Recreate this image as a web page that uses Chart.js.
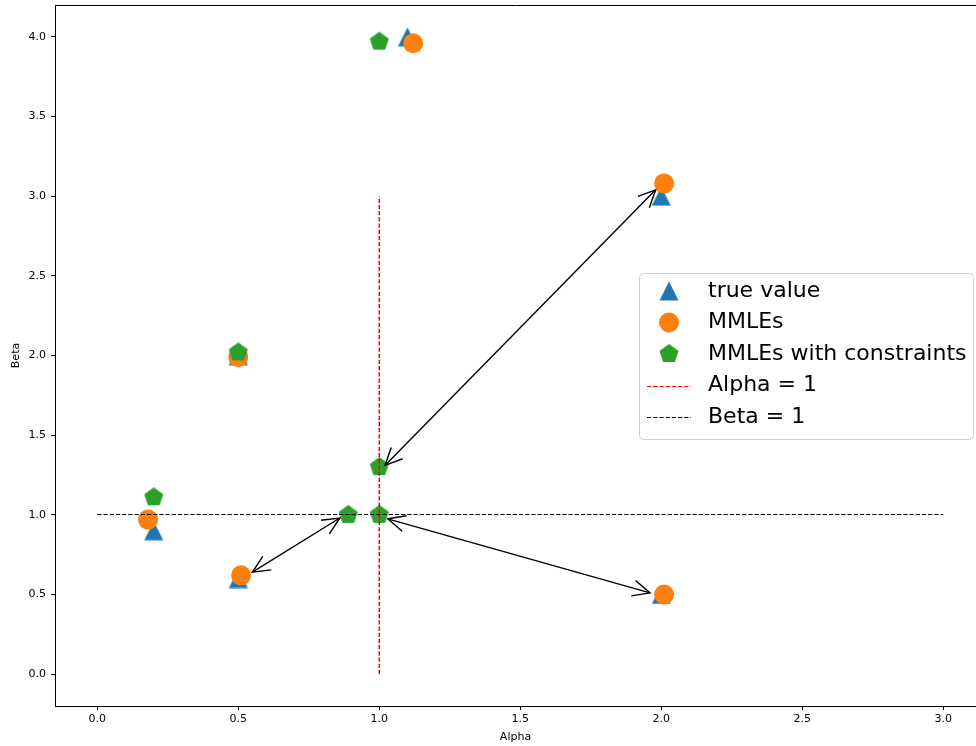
<!DOCTYPE html>
<html>
<head>
<meta charset="utf-8">
<script src="https://cdn.jsdelivr.net/npm/chart.js@4.4.1/dist/chart.umd.min.js"></script>
<style>
  html, body { margin: 0; padding: 0; background: #fff; }
  #wrap { width: 976px; height: 746px; }
</style>
</head>
<body>
<div id="wrap"><canvas id="chart" width="976" height="746"></canvas></div>
<script>
// true parameters and the two kinds of estimates
const trueAlpha = [1.1, 2.0, 0.5, 0.2, 0.5, 2.0];
const trueBeta = [4.0, 3.0, 2.0, 0.9, 0.6, 0.5];
const mmleAlpha = [1.12, 2.01, 0.5, 0.18, 0.51, 2.01];
const mmleBeta = [3.96, 3.08, 1.99, 0.97, 0.62, 0.5];
const constrainedAlpha = [1.0, 1.0, 0.5, 0.2, 0.89, 1.0];
const constrainedBeta = [3.97, 1.3, 2.02, 1.11, 1.0, 1.0];

// reference lines
const alphaLineX = [1, 1];
const alphaLineY = [0, 3];
const betaLineX = [0, 3];
const betaLineY = [1, 1];

// double headed arrows: [alpha1, beta1, alpha2, beta2]
const arrows = [
    [1.98, 3.04, 1.02, 1.31],
    [0.55, 0.64, 0.86, 0.98],
    [1.03, 0.975, 1.96, 0.51],
];

const xTicks = [0, 0.5, 1.0, 1.5, 2.0, 2.5, 3.0];
const yTicks = [0, 0.5, 1.0, 1.5, 2.0, 2.5, 3.0, 3.5, 4.0];
const legendLabels = ['true value', 'MMLEs', 'MMLEs with constraints', 'Alpha = 1', 'Beta = 1'];

const BLUE = '#1f77b4';
const ORANGE = '#ff7f0e';
const GREEN = '#2ca02c';
const DASH = [4.3, 1.9];

Chart.defaults.font.family = "'DejaVu Sans', sans-serif";
Chart.defaults.font.size = 11;
Chart.defaults.color = '#000';

const toPoints = (xs, ys) => xs.map((x, i) => ({x: x, y: ys[i]}));
const snap = p => Math.round(p - 0.5) + 0.5;

/** matplotlib '^' marker: as tall as it is wide, centred on its box
 * @return {HTMLCanvasElement} */
function makeTriangle(color, size) {
    let c = document.createElement('canvas');
    c.width = size + 1;
    c.height = size + 1;
    let ctx = c.getContext('2d');
    let h = c.width / 2;
    ctx.fillStyle = color;
    ctx.beginPath();
    ctx.moveTo(h, h - size / 2);
    ctx.lineTo(h - size / 2, h + size / 2);
    ctx.lineTo(h + size / 2, h + size / 2);
    ctx.closePath();
    ctx.fill();
    return c;
}

/** @return {HTMLCanvasElement} */
function makePentagon(color, radius) {
    let c = document.createElement('canvas');
    c.width = Math.ceil(radius * 2 + 2);
    c.height = c.width;
    let ctx = c.getContext('2d');
    let h = c.width / 2;
    ctx.fillStyle = color;
    ctx.beginPath();
    for (let i = 0; i < 5; i++) {
        let a = -Math.PI / 2 + i * 2 * Math.PI / 5;
        let px = h + Math.cos(a) * radius;
        let py = h + Math.sin(a) * radius;
        if (i === 0) ctx.moveTo(px, py); else ctx.lineTo(px, py);
    }
    ctx.closePath();
    ctx.fill();
    return c;
}

const triangleImg = makeTriangle(BLUE, 19);
const pentagonImg = makePentagon(GREEN, 10);

function drawArrowHead(ctx, tx, ty, fx, fy) {
    let ang = Math.atan2(fy - ty, fx - tx);
    let len = 19, spread = 25 * Math.PI / 180;
    ctx.beginPath();
    ctx.moveTo(tx + Math.cos(ang + spread) * len, ty + Math.sin(ang + spread) * len);
    ctx.lineTo(tx, ty);
    ctx.lineTo(tx + Math.cos(ang - spread) * len, ty + Math.sin(ang - spread) * len);
    ctx.stroke();
}

// dashed Alpha = 1 / Beta = 1 lines, on top of the markers
const refLinePlugin = {
    id: 'refLines',
    afterDatasetsDraw(chart) {
        const {ctx, scales: {x, y}} = chart;
        const lines = [
            {xs: betaLineX, ys: betaLineY, color: '#000', width: 1},
            {xs: alphaLineX, ys: alphaLineY, color: '#ff0000', width: 1.5},
        ];
        ctx.save();
        ctx.setLineDash(DASH);
        lines.forEach(l => {
            let x1 = x.getPixelForValue(l.xs[0]), y1 = y.getPixelForValue(l.ys[0]);
            let x2 = x.getPixelForValue(l.xs[1]), y2 = y.getPixelForValue(l.ys[1]);
            if (l.ys[0] === l.ys[1]) { y1 = y2 = snap(y1); }
            ctx.strokeStyle = l.color;
            ctx.lineWidth = l.width;
            ctx.beginPath();
            ctx.moveTo(x1, y1);
            ctx.lineTo(x2, y2);
            ctx.stroke();
        });
        ctx.restore();
    }
};

const arrowPlugin = {
    id: 'arrows',
    afterDatasetsDraw(chart) {
        const {ctx, scales: {x, y}} = chart;
        ctx.save();
        ctx.strokeStyle = '#000';
        ctx.lineWidth = 1.4;
        arrows.forEach(a => {
            let x1 = x.getPixelForValue(a[0]), y1 = y.getPixelForValue(a[1]);
            let x2 = x.getPixelForValue(a[2]), y2 = y.getPixelForValue(a[3]);
            ctx.beginPath();
            ctx.moveTo(x1, y1);
            ctx.lineTo(x2, y2);
            ctx.stroke();
            drawArrowHead(ctx, x1, y1, x2, y2);
            drawArrowHead(ctx, x2, y2, x1, y1);
        });
        ctx.restore();
    }
};

// top spine (the right one is cut off in the original)
const framePlugin = {
    id: 'frame',
    afterDraw(chart) {
        const {ctx, chartArea} = chart;
        ctx.save();
        ctx.strokeStyle = '#000';
        ctx.lineWidth = 1;
        ctx.beginPath();
        ctx.moveTo(chartArea.left, chartArea.top + 0.5);
        ctx.lineTo(chartArea.right, chartArea.top + 0.5);
        ctx.stroke();
        ctx.restore();
    }
};

const legendPlugin = {
    id: 'boxLegend',
    afterDraw(chart) {
        const {ctx} = chart;
        let left = 639, top = 273, w = 334, h = 166;
        ctx.save();
        ctx.beginPath();
        ctx.roundRect(left + 0.5, top + 0.5, w, h, 4);
        ctx.fillStyle = 'rgba(255,255,255,0.8)';
        ctx.fill();
        ctx.strokeStyle = '#d0d0d0';
        ctx.lineWidth = 1;
        ctx.stroke();

        let mx = 669, rowY = 291, step = 31.5;
        legendLabels.forEach((label, i) => {
            let cy = rowY + i * step;
            if (i === 0) {
                ctx.drawImage(triangleImg, mx - triangleImg.width / 2, cy - triangleImg.height / 2);
            } else if (i === 1) {
                ctx.beginPath();
                ctx.arc(mx, cy, 10, 0, Math.PI * 2);
                ctx.fillStyle = ORANGE;
                ctx.fill();
            } else if (i === 2) {
                ctx.drawImage(pentagonImg, mx - pentagonImg.width / 2, cy - pentagonImg.height / 2);
            } else {
                ctx.beginPath();
                ctx.setLineDash(DASH);
                ctx.strokeStyle = i === 3 ? '#ff0000' : '#000';
                ctx.lineWidth = 1;
                ctx.moveTo(647, Math.round(cy) + 0.5);
                ctx.lineTo(691, Math.round(cy) + 0.5);
                ctx.stroke();
                ctx.setLineDash([]);
            }
            ctx.fillStyle = '#000';
            ctx.font = "22px 'DejaVu Sans'";
            ctx.textBaseline = 'middle';
            ctx.textAlign = 'left';
            ctx.fillText(label, 708, cy);
        });
        ctx.restore();
    }
};

new Chart(document.getElementById('chart'), {
    type: 'scatter',
    data: {
        datasets: [
            {
                label: 'MMLEs with constraints',
                data: toPoints(constrainedAlpha, constrainedBeta),
                pointStyle: pentagonImg,
                pointRadius: 10,
                order: 1,
            },
            {
                label: 'MMLEs',
                data: toPoints(mmleAlpha, mmleBeta),
                pointStyle: 'circle',
                pointRadius: 10,
                backgroundColor: ORANGE,
                borderWidth: 0,
                order: 2,
            },
            {
                label: 'true value',
                data: toPoints(trueAlpha, trueBeta),
                pointStyle: triangleImg,
                pointRadius: 10,
                order: 3,
            },
        ]
    },
    options: {
        responsive: false,
        animation: false,
        devicePixelRatio: 1,
        events: [],
        layout: {autoPadding: false, padding: {top: 5, right: 0, bottom: 0, left: 0}},
        plugins: {
            legend: {display: false},
            tooltip: {enabled: false},
        },
        scales: {
            x: {
                type: 'linear',
                min: -0.15,
                max: 3.116,
                afterBuildTicks: s => { s.ticks = xTicks.map(v => ({value: v})); },
                afterFit: s => { s.height = 40; s.paddingLeft = 0; s.paddingRight = 0; },
                ticks: {
                    callback: v => v.toFixed(1),
                    padding: 3,
                    maxRotation: 0,
                    autoSkip: false,
                    color: '#000',
                },
                grid: {drawOnChartArea: false, drawTicks: true, tickLength: 4, tickColor: '#000', tickWidth: 1},
                border: {display: true, color: '#000', width: 1},
                title: {display: true, text: 'Alpha', padding: {top: 0, bottom: 2}, color: '#000'},
            },
            y: {
                type: 'linear',
                min: -0.2,
                max: 4.2,
                afterBuildTicks: s => { s.ticks = yTicks.map(v => ({value: v})); },
                afterFit: s => { s.width = 55; s.paddingTop = 0; s.paddingBottom = 0; },
                ticks: {
                    callback: v => v.toFixed(1),
                    padding: 5,
                    autoSkip: false,
                    color: '#000',
                },
                grid: {drawOnChartArea: false, drawTicks: true, tickLength: 4, tickColor: '#000', tickWidth: 1},
                border: {display: true, color: '#000', width: 1},
                title: {display: true, text: 'Beta', padding: {top: 10, bottom: 0}, color: '#000'},
            }
        }
    },
    plugins: [refLinePlugin, arrowPlugin, framePlugin, legendPlugin]
});
</script>
</body>
</html>
